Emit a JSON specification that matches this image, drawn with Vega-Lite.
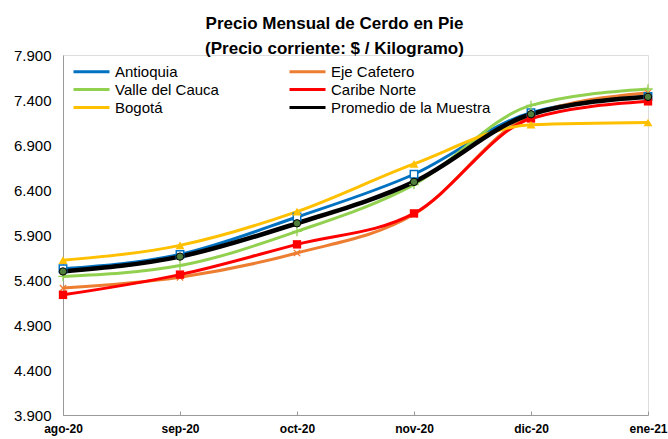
{
  "$schema": "https://vega.github.io/schema/vega-lite/v6.json",
  "width": 585,
  "height": 360,
  "autosize": {"type": "none"},
  "padding": {"left": 63, "top": 55, "right": 20, "bottom": 24},
  "background": "white",
  "title": {
    "text": ["Precio Mensual de Cerdo en Pie", "(Precio corriente: $ / Kilogramo)"],
    "font": "Liberation Sans",
    "fontSize": 17,
    "fontWeight": "bold",
    "color": "#000000",
    "anchor": "middle",
    "dx": -21,
    "offset": -10,
    "lineHeight": 25
  },
  "data": {
    "values": [
      {"mes": "ago-20", "serie": "Antioquia", "valor": 5525},
      {"mes": "sep-20", "serie": "Antioquia", "valor": 5685},
      {"mes": "oct-20", "serie": "Antioquia", "valor": 6100},
      {"mes": "nov-20", "serie": "Antioquia", "valor": 6575},
      {"mes": "dic-20", "serie": "Antioquia", "valor": 7260},
      {"mes": "ene-21", "serie": "Antioquia", "valor": 7440},
      {"mes": "ago-20", "serie": "Eje Cafetero", "valor": 5310},
      {"mes": "sep-20", "serie": "Eje Cafetero", "valor": 5430},
      {"mes": "oct-20", "serie": "Eje Cafetero", "valor": 5700},
      {"mes": "nov-20", "serie": "Eje Cafetero", "valor": 6130},
      {"mes": "dic-20", "serie": "Eje Cafetero", "valor": 7230},
      {"mes": "ene-21", "serie": "Eje Cafetero", "valor": 7480},
      {"mes": "ago-20", "serie": "Valle del Cauca", "valor": 5440},
      {"mes": "sep-20", "serie": "Valle del Cauca", "valor": 5560},
      {"mes": "oct-20", "serie": "Valle del Cauca", "valor": 5940},
      {"mes": "nov-20", "serie": "Valle del Cauca", "valor": 6460},
      {"mes": "dic-20", "serie": "Valle del Cauca", "valor": 7340},
      {"mes": "ene-21", "serie": "Valle del Cauca", "valor": 7522},
      {"mes": "ago-20", "serie": "Caribe Norte", "valor": 5235},
      {"mes": "sep-20", "serie": "Caribe Norte", "valor": 5460},
      {"mes": "oct-20", "serie": "Caribe Norte", "valor": 5796},
      {"mes": "nov-20", "serie": "Caribe Norte", "valor": 6140},
      {"mes": "dic-20", "serie": "Caribe Norte", "valor": 7195},
      {"mes": "ene-21", "serie": "Caribe Norte", "valor": 7385},
      {"mes": "ago-20", "serie": "Bogotá", "valor": 5620},
      {"mes": "sep-20", "serie": "Bogotá", "valor": 5785},
      {"mes": "oct-20", "serie": "Bogotá", "valor": 6160},
      {"mes": "nov-20", "serie": "Bogotá", "valor": 6690},
      {"mes": "dic-20", "serie": "Bogotá", "valor": 7125},
      {"mes": "ene-21", "serie": "Bogotá", "valor": 7150},
      {"mes": "ago-20", "serie": "Promedio de la Muestra", "valor": 5495},
      {"mes": "sep-20", "serie": "Promedio de la Muestra", "valor": 5660},
      {"mes": "oct-20", "serie": "Promedio de la Muestra", "valor": 6030},
      {"mes": "nov-20", "serie": "Promedio de la Muestra", "valor": 6490},
      {"mes": "dic-20", "serie": "Promedio de la Muestra", "valor": 7242},
      {"mes": "ene-21", "serie": "Promedio de la Muestra", "valor": 7435}
    ]
  },
  "encoding": {
    "x": {
      "field": "mes",
      "type": "ordinal",
      "sort": ["ago-20", "sep-20", "oct-20", "nov-20", "dic-20", "ene-21"],
      "scale": {"type": "point", "padding": 0},
      "axis": {
        "title": null,
        "labelAngle": 0,
        "labelFont": "Liberation Sans",
        "labelFontSize": 12,
        "labelFontWeight": "bold",
        "labelColor": "#000000",
        "domainColor": "#999999",
        "tickColor": "#999999",
        "tickSize": -4,
        "labelPadding": 12,
        "grid": false
      }
    },
    "y": {
      "field": "valor",
      "type": "quantitative",
      "scale": {"domain": [3900, 7900], "nice": false, "zero": false},
      "axis": {
        "title": null,
        "values": [3900, 4400, 4900, 5400, 5900, 6400, 6900, 7400, 7900],
        "labelExpr": "replace(format(datum.value, ','), ',', '.')",
        "labelFont": "Liberation Sans",
        "labelFontSize": 15,
        "labelColor": "#000000",
        "domainColor": "#999999",
        "ticks": false,
        "labelPadding": 12,
        "grid": false
      }
    }
  },
  "layer": [
    {
      "transform": [{"filter": "datum.serie !== 'Promedio de la Muestra'"}],
      "mark": {"type": "line", "interpolate": "monotone", "strokeWidth": 3},
      "encoding": {
        "color": {
          "field": "serie",
          "type": "nominal",
          "scale": {
            "domain": ["Antioquia", "Eje Cafetero", "Valle del Cauca", "Caribe Norte", "Bogotá", "Promedio de la Muestra"],
            "range": ["#0070C0", "#ED7D31", "#92D050", "#FF0000", "#FFC000", "#000000"]
          },
          "legend": {
            "title": null,
            "orient": "none",
            "legendX": 21,
            "legendY": 9,
            "columns": 2,
            "direction": "horizontal",
            "columnPadding": 64,
            "rowPadding": 2,
            "symbolType": "M-3,0H3",
            "symbolSize": 144,
            "symbolStrokeWidth": 3,
            "labelFont": "Liberation Sans",
            "labelFontSize": 15,
            "labelColor": "#000000",
            "labelOffset": 16,
            "labelLimit": 300
          }
        }
      }
    },
    {
      "transform": [{"filter": "datum.serie === 'Promedio de la Muestra'"}],
      "mark": {"type": "line", "interpolate": "monotone", "strokeWidth": 4.5, "color": "#000000"}
    },
    {
      "transform": [{"filter": "datum.serie === 'Antioquia'"}],
      "mark": {"type": "point", "shape": "square", "filled": true, "fill": "white", "stroke": "#0070C0", "strokeWidth": 1.5, "size": 55, "opacity": 1}
    },
    {
      "transform": [{"filter": "datum.serie === 'Eje Cafetero'"}],
      "mark": {"type": "point", "shape": "M-1,-1L1,1M1,-1L-1,1", "filled": false, "stroke": "#ED7D31", "strokeWidth": 1.3, "size": 40, "opacity": 1}
    },
    {
      "transform": [{"filter": "datum.serie === 'Valle del Cauca'"}],
      "mark": {"type": "point", "shape": "M-1,0L1,0M0,-1L0,1", "filled": false, "stroke": "#92D050", "strokeWidth": 1.3, "size": 90, "opacity": 1}
    },
    {
      "transform": [{"filter": "datum.serie === 'Caribe Norte'"}],
      "mark": {"type": "point", "shape": "square", "filled": true, "fill": "#FF0000", "size": 70, "opacity": 1}
    },
    {
      "transform": [{"filter": "datum.serie === 'Bogotá'"}],
      "mark": {"type": "point", "shape": "triangle-up", "filled": true, "fill": "#FFC000", "size": 80, "opacity": 1}
    },
    {
      "transform": [{"filter": "datum.serie === 'Promedio de la Muestra'"}],
      "mark": {"type": "point", "shape": "circle", "filled": true, "fill": "#4F7F3A", "stroke": "#000000", "strokeWidth": 1, "size": 55, "opacity": 1}
    }
  ]
}
